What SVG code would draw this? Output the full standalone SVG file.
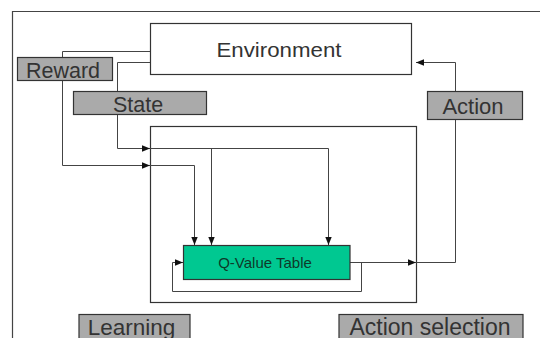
<svg xmlns="http://www.w3.org/2000/svg" width="540" height="338" viewBox="0 0 540 338">
<defs>
<style>
.ln{fill:none;stroke:#444;stroke-width:1}
.box{fill:#fff;stroke:#333;stroke-width:1.2}
.frame{fill:none;stroke:#333;stroke-width:1.2}
.lab{fill:#aaaaaa;stroke:#333;stroke-width:1.2}
.q{fill:#00c891;stroke:#333;stroke-width:1.2}
.t{font-family:"Liberation Sans",Arial,sans-serif;fill:#333;text-anchor:middle}
</style>
<marker id="ah" viewBox="0 0 8 8" refX="8" refY="4" markerWidth="8" markerHeight="8" markerUnits="userSpaceOnUse" orient="auto">
<path d="M0,0.8 L8,4 L0,7.2 Z" fill="#111"/>
</marker>
</defs>
<rect width="540" height="338" fill="#fff"/>
<path d="M12.5,338 V11.5 H540" fill="none" stroke="#444" stroke-width="1.2"/>
<g id="inner">
<rect class="frame" x="150.5" y="126.5" width="266" height="176"/>
</g>
<g id="connectors">
<path class="ln" d="M150,51.5 H62.5 V165.5 H150" marker-end="url(#ah)"/>
<path class="ln" d="M150,165.5 H194.5 V245" marker-end="url(#ah)"/>
<path class="ln" d="M150,62.5 H117.5 V91"/>
<path class="ln" d="M117.5,114 V148.5 H150" marker-end="url(#ah)"/>
<path class="ln" d="M150,148.5 H328.5 V245" marker-end="url(#ah)"/>
<path class="ln" d="M211.5,148.5 V245" marker-end="url(#ah)"/>
<path class="ln" d="M350,262.5 H416" marker-end="url(#ah)"/>
<path class="ln" d="M416,262.5 H455.5 V120"/>
<path class="ln" d="M455.5,91 V62.5 H416" marker-end="url(#ah)"/>
<path class="ln" d="M350,262.5 H361.5 V291.5 H172.5 V262.5 H183" marker-end="url(#ah)"/>
</g>
<g id="environment">
<rect class="box" x="150.5" y="23.5" width="261" height="51"/>
<text class="t" x="279" y="56.5" font-size="20" textLength="125" lengthAdjust="spacingAndGlyphs">Environment</text>
</g>
<g id="reward">
<rect class="lab" x="17.5" y="57.5" width="95" height="23"/>
<text class="t" x="63" y="77.5" font-size="21.5">Reward</text>
</g>
<g id="state">
<rect class="lab" x="73.5" y="91.5" width="133" height="23"/>
<text class="t" x="138" y="111.5" font-size="21.5">State</text>
</g>
<g id="action">
<rect class="lab" x="427.5" y="91.5" width="95" height="28"/>
<text class="t" x="473" y="113.5" font-size="22">Action</text>
</g>
<g id="qtable">
<rect class="q" x="183.5" y="245.5" width="166.5" height="34"/>
<text class="t" x="265" y="267.5" font-size="15" style="fill:#0e3a2a">Q-Value Table</text>
</g>
<g id="learning">
<rect class="lab" x="79" y="314.5" width="111" height="26"/>
<text class="t" x="131.5" y="334.5" font-size="22.5">Learning</text>
</g>
<g id="action-selection">
<rect class="lab" x="339" y="314.5" width="184" height="26"/>
<text class="t" x="430" y="334.5" font-size="23">Action selection</text>
</g>
</svg>
